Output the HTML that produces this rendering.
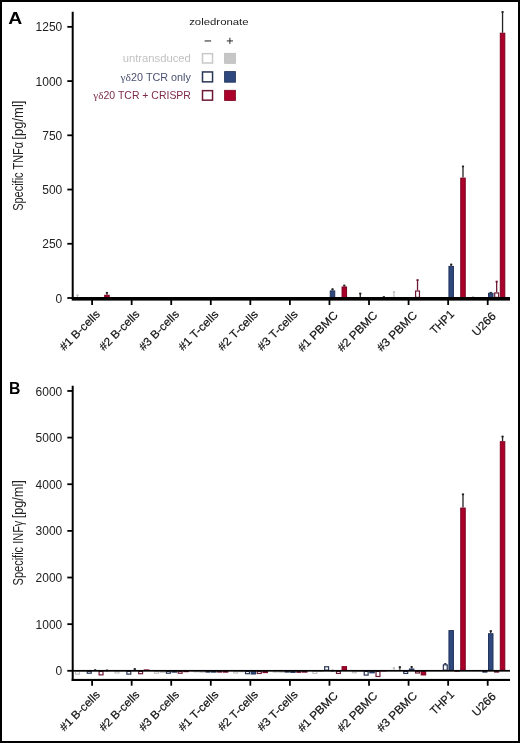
<!DOCTYPE html>
<html><head><meta charset="utf-8"><style>
html,body{margin:0;padding:0;background:#fff;}
svg{display:block;will-change:transform;}
text{font-family:"Liberation Sans", sans-serif;}
</style></head><body>
<svg width="520" height="743" viewBox="0 0 520 743" font-family='"Liberation Sans", sans-serif'>
<rect x="1" y="1" width="518" height="741" fill="#fff" stroke="#000" stroke-width="2"/>
<text x="8.3" y="23.8" font-size="17.3" text-anchor="start" fill="#000" font-weight="bold" textLength="14" lengthAdjust="spacingAndGlyphs" >A</text>
<text x="9.0" y="393.8" font-size="17" text-anchor="start" fill="#000" font-weight="bold" textLength="11.4" lengthAdjust="spacingAndGlyphs" >B</text>
<line x1="72.7" y1="11.7" x2="72.7" y2="299" stroke="#000" stroke-width="2"/>
<line x1="67.3" y1="298.00" x2="72.7" y2="298.00" stroke="#000" stroke-width="1.8"/>
<text x="62.3" y="302.60" font-size="12" text-anchor="end" fill="#222" font-weight="normal" >0</text>
<line x1="67.3" y1="243.77" x2="72.7" y2="243.77" stroke="#000" stroke-width="1.8"/>
<text x="62.3" y="248.37" font-size="12" text-anchor="end" fill="#222" font-weight="normal" >250</text>
<line x1="67.3" y1="189.54" x2="72.7" y2="189.54" stroke="#000" stroke-width="1.8"/>
<text x="62.3" y="194.14" font-size="12" text-anchor="end" fill="#222" font-weight="normal" >500</text>
<line x1="67.3" y1="135.31" x2="72.7" y2="135.31" stroke="#000" stroke-width="1.8"/>
<text x="62.3" y="139.91" font-size="12" text-anchor="end" fill="#222" font-weight="normal" >750</text>
<line x1="67.3" y1="81.08" x2="72.7" y2="81.08" stroke="#000" stroke-width="1.8"/>
<text x="62.3" y="85.68" font-size="12" text-anchor="end" fill="#222" font-weight="normal" >1000</text>
<line x1="67.3" y1="26.85" x2="72.7" y2="26.85" stroke="#000" stroke-width="1.8"/>
<text x="62.3" y="31.45" font-size="12" text-anchor="end" fill="#222" font-weight="normal" >1250</text>
<line x1="77.45" y1="297.57" x2="77.45" y2="294.53" stroke="#c0c0c0" stroke-width="1.3"/>
<line x1="76.35" y1="295.33" x2="78.55" y2="295.33" stroke="#c0c0c0" stroke-width="1.6"/>
<rect x="74.90" y="297.57" width="5.10" height="0.60" fill="#c4c4c4"/>
<line x1="106.95" y1="294.75" x2="106.95" y2="291.93" stroke="#222" stroke-width="1.3"/>
<line x1="105.85" y1="292.73" x2="108.05" y2="292.73" stroke="#222" stroke-width="1.6"/>
<rect x="104.70" y="295.25" width="4.50" height="2.25" fill="#aa0029" stroke="#7a0020" stroke-width="1.0"/>
<line x1="332.51" y1="290.41" x2="332.51" y2="288.46" stroke="#222" stroke-width="1.3"/>
<line x1="331.41" y1="289.26" x2="333.61" y2="289.26" stroke="#222" stroke-width="1.6"/>
<rect x="330.26" y="290.91" width="4.50" height="6.59" fill="#2f497e" stroke="#22345c" stroke-width="1.0"/>
<line x1="344.31" y1="286.50" x2="344.31" y2="284.77" stroke="#222" stroke-width="1.3"/>
<line x1="343.21" y1="285.57" x2="345.41" y2="285.57" stroke="#222" stroke-width="1.6"/>
<rect x="342.06" y="287.00" width="4.50" height="10.50" fill="#aa0029" stroke="#7a0020" stroke-width="1.0"/>
<line x1="360.27" y1="297.35" x2="360.27" y2="292.79" stroke="#222" stroke-width="1.3"/>
<line x1="359.17" y1="293.59" x2="361.37" y2="293.59" stroke="#222" stroke-width="1.6"/>
<rect x="357.52" y="297.35" width="5.50" height="0.65" fill="#b8b8b8"/>
<line x1="383.87" y1="297.35" x2="383.87" y2="296.26" stroke="#222" stroke-width="1.3"/>
<line x1="382.77" y1="297.06" x2="384.97" y2="297.06" stroke="#222" stroke-width="1.6"/>
<rect x="381.12" y="297.35" width="5.50" height="0.65" fill="#7a0020"/>
<line x1="393.93" y1="297.13" x2="393.93" y2="291.28" stroke="#c0c0c0" stroke-width="1.3"/>
<line x1="392.83" y1="292.08" x2="395.03" y2="292.08" stroke="#c0c0c0" stroke-width="1.6"/>
<rect x="391.38" y="297.13" width="5.10" height="0.87" fill="#c4c4c4"/>
<line x1="417.53" y1="290.41" x2="417.53" y2="279.34" stroke="#6e1a34" stroke-width="1.3"/>
<line x1="416.43" y1="280.14" x2="418.63" y2="280.14" stroke="#6e1a34" stroke-width="1.6"/>
<rect x="415.58" y="291.01" width="3.90" height="6.39" fill="#fff" stroke="#6e1a34" stroke-width="1.2"/>
<line x1="451.19" y1="265.90" x2="451.19" y2="263.73" stroke="#222" stroke-width="1.3"/>
<line x1="450.09" y1="264.53" x2="452.29" y2="264.53" stroke="#222" stroke-width="1.6"/>
<rect x="448.94" y="266.40" width="4.50" height="31.10" fill="#2f497e" stroke="#22345c" stroke-width="1.0"/>
<line x1="462.99" y1="177.61" x2="462.99" y2="165.68" stroke="#222" stroke-width="1.3"/>
<line x1="461.89" y1="166.48" x2="464.09" y2="166.48" stroke="#222" stroke-width="1.6"/>
<rect x="460.74" y="178.11" width="4.50" height="119.39" fill="#aa0029" stroke="#7a0020" stroke-width="1.0"/>
<line x1="473.05" y1="297.57" x2="473.05" y2="296.26" stroke="#c0c0c0" stroke-width="1.3"/>
<line x1="471.95" y1="297.06" x2="474.15" y2="297.06" stroke="#c0c0c0" stroke-width="1.6"/>
<rect x="470.50" y="297.57" width="5.10" height="0.60" fill="#c4c4c4"/>
<line x1="490.75" y1="292.79" x2="490.75" y2="291.93" stroke="#222" stroke-width="1.3"/>
<line x1="489.65" y1="292.73" x2="491.85" y2="292.73" stroke="#222" stroke-width="1.6"/>
<rect x="488.50" y="293.29" width="4.50" height="4.21" fill="#2f497e" stroke="#22345c" stroke-width="1.0"/>
<line x1="496.65" y1="292.36" x2="496.65" y2="280.86" stroke="#6e1a34" stroke-width="1.3"/>
<line x1="495.55" y1="281.66" x2="497.75" y2="281.66" stroke="#6e1a34" stroke-width="1.6"/>
<rect x="494.70" y="292.96" width="3.90" height="4.44" fill="#fff" stroke="#6e1a34" stroke-width="1.2"/>
<line x1="502.55" y1="32.71" x2="502.55" y2="11.23" stroke="#222" stroke-width="1.3"/>
<line x1="501.45" y1="12.03" x2="503.65" y2="12.03" stroke="#222" stroke-width="1.6"/>
<rect x="500.30" y="33.21" width="4.50" height="264.29" fill="#aa0029" stroke="#7a0020" stroke-width="1.0"/>
<rect x="71.7" y="297.0" width="438.3" height="3.6" fill="#000"/>
<line x1="92.10" y1="300" x2="92.10" y2="305" stroke="#000" stroke-width="1.8"/>
<line x1="131.66" y1="300" x2="131.66" y2="305" stroke="#000" stroke-width="1.8"/>
<line x1="171.22" y1="300" x2="171.22" y2="305" stroke="#000" stroke-width="1.8"/>
<line x1="210.78" y1="300" x2="210.78" y2="305" stroke="#000" stroke-width="1.8"/>
<line x1="250.34" y1="300" x2="250.34" y2="305" stroke="#000" stroke-width="1.8"/>
<line x1="289.90" y1="300" x2="289.90" y2="305" stroke="#000" stroke-width="1.8"/>
<line x1="329.46" y1="300" x2="329.46" y2="305" stroke="#000" stroke-width="1.8"/>
<line x1="369.02" y1="300" x2="369.02" y2="305" stroke="#000" stroke-width="1.8"/>
<line x1="408.58" y1="300" x2="408.58" y2="305" stroke="#000" stroke-width="1.8"/>
<line x1="448.14" y1="300" x2="448.14" y2="305" stroke="#000" stroke-width="1.8"/>
<line x1="487.70" y1="300" x2="487.70" y2="305" stroke="#000" stroke-width="1.8"/>
<text transform="translate(22.9,210.80) rotate(-90)" font-size="14" fill="#222" textLength="68.88" lengthAdjust="spacingAndGlyphs">Specific TNFα</text>
<text transform="translate(22.9,139.65) rotate(-90)" font-size="14" fill="#222" textLength="39.04" lengthAdjust="spacingAndGlyphs">[pg/ml]</text>
<text transform="translate(100.70,314.90) rotate(-45)" font-size="11.5" text-anchor="end" fill="#111" stroke="#111" stroke-width="0.2" textLength="51.54" lengthAdjust="spacingAndGlyphs">#1 B-cells</text>
<text transform="translate(140.24,314.90) rotate(-45)" font-size="11.5" text-anchor="end" fill="#111" stroke="#111" stroke-width="0.2" textLength="51.55" lengthAdjust="spacingAndGlyphs">#2 B-cells</text>
<text transform="translate(179.78,314.90) rotate(-45)" font-size="11.5" text-anchor="end" fill="#111" stroke="#111" stroke-width="0.2" textLength="51.42" lengthAdjust="spacingAndGlyphs">#3 B-cells</text>
<text transform="translate(219.32,314.90) rotate(-45)" font-size="11.5" text-anchor="end" fill="#111" stroke="#111" stroke-width="0.2" textLength="51.50" lengthAdjust="spacingAndGlyphs">#1 T-cells</text>
<text transform="translate(258.86,314.90) rotate(-45)" font-size="11.5" text-anchor="end" fill="#111" stroke="#111" stroke-width="0.2" textLength="51.37" lengthAdjust="spacingAndGlyphs">#2 T-cells</text>
<text transform="translate(298.40,314.90) rotate(-45)" font-size="11.5" text-anchor="end" fill="#111" stroke="#111" stroke-width="0.2" textLength="51.38" lengthAdjust="spacingAndGlyphs">#3 T-cells</text>
<text transform="translate(338.69,315.90) rotate(-45)" font-size="11.5" text-anchor="end" fill="#111" stroke="#111" stroke-width="0.2" textLength="51.32" lengthAdjust="spacingAndGlyphs">#1 PBMC</text>
<text transform="translate(378.23,315.90) rotate(-45)" font-size="11.5" text-anchor="end" fill="#111" stroke="#111" stroke-width="0.2" textLength="51.33" lengthAdjust="spacingAndGlyphs">#2 PBMC</text>
<text transform="translate(417.77,315.90) rotate(-45)" font-size="11.5" text-anchor="end" fill="#111" stroke="#111" stroke-width="0.2" textLength="51.20" lengthAdjust="spacingAndGlyphs">#3 PBMC</text>
<text transform="translate(455.01,314.80) rotate(-45)" font-size="11.5" text-anchor="end" fill="#111" stroke="#111" stroke-width="0.2" textLength="28.65" lengthAdjust="spacingAndGlyphs">THP1</text>
<text transform="translate(496.60,316.75) rotate(-45)" font-size="11.5" text-anchor="end" fill="#111" stroke="#111" stroke-width="0.2" textLength="28.20" lengthAdjust="spacingAndGlyphs">U266</text>
<line x1="72.7" y1="385.8" x2="72.7" y2="680.9" stroke="#000" stroke-width="2"/>
<line x1="67.3" y1="670.80" x2="72.7" y2="670.80" stroke="#000" stroke-width="1.8"/>
<text x="62.3" y="675.40" font-size="12" text-anchor="end" fill="#222" font-weight="normal" >0</text>
<line x1="67.3" y1="624.16" x2="72.7" y2="624.16" stroke="#000" stroke-width="1.8"/>
<text x="62.3" y="628.76" font-size="12" text-anchor="end" fill="#222" font-weight="normal" >1000</text>
<line x1="67.3" y1="577.52" x2="72.7" y2="577.52" stroke="#000" stroke-width="1.8"/>
<text x="62.3" y="582.12" font-size="12" text-anchor="end" fill="#222" font-weight="normal" >2000</text>
<line x1="67.3" y1="530.88" x2="72.7" y2="530.88" stroke="#000" stroke-width="1.8"/>
<text x="62.3" y="535.48" font-size="12" text-anchor="end" fill="#222" font-weight="normal" >3000</text>
<line x1="67.3" y1="484.24" x2="72.7" y2="484.24" stroke="#000" stroke-width="1.8"/>
<text x="62.3" y="488.84" font-size="12" text-anchor="end" fill="#222" font-weight="normal" >4000</text>
<line x1="67.3" y1="437.60" x2="72.7" y2="437.60" stroke="#000" stroke-width="1.8"/>
<text x="62.3" y="442.20" font-size="12" text-anchor="end" fill="#222" font-weight="normal" >5000</text>
<line x1="67.3" y1="390.96" x2="72.7" y2="390.96" stroke="#000" stroke-width="1.8"/>
<text x="62.3" y="395.56" font-size="12" text-anchor="end" fill="#222" font-weight="normal" >6000</text>
<rect x="75.50" y="671.40" width="3.90" height="2.76" fill="#fff" stroke="#c4c4c4" stroke-width="1.2"/>
<rect x="80.60" y="670.80" width="5.50" height="0.93" fill="#b8b8b8"/>
<rect x="87.30" y="671.40" width="3.90" height="1.83" fill="#fff" stroke="#2a3656" stroke-width="1.2"/>
<line x1="95.15" y1="670.57" x2="95.15" y2="669.40" stroke="#222" stroke-width="1.3"/>
<line x1="94.05" y1="670.20" x2="96.25" y2="670.20" stroke="#222" stroke-width="1.6"/>
<rect x="92.40" y="670.57" width="5.50" height="0.60" fill="#22345c"/>
<rect x="99.10" y="671.40" width="3.90" height="3.46" fill="#fff" stroke="#6e1a34" stroke-width="1.2"/>
<line x1="106.95" y1="670.57" x2="106.95" y2="669.63" stroke="#222" stroke-width="1.3"/>
<line x1="105.85" y1="670.43" x2="108.05" y2="670.43" stroke="#222" stroke-width="1.6"/>
<rect x="104.20" y="670.57" width="5.50" height="0.60" fill="#7a0020"/>
<rect x="115.06" y="671.40" width="3.90" height="1.60" fill="#fff" stroke="#c4c4c4" stroke-width="1.2"/>
<rect x="120.16" y="670.80" width="5.50" height="0.60" fill="#b8b8b8"/>
<rect x="126.86" y="671.40" width="3.90" height="2.76" fill="#fff" stroke="#2a3656" stroke-width="1.2"/>
<line x1="134.71" y1="670.57" x2="134.71" y2="668.23" stroke="#222" stroke-width="1.3"/>
<line x1="133.61" y1="669.03" x2="135.81" y2="669.03" stroke="#222" stroke-width="1.6"/>
<rect x="131.96" y="670.57" width="5.50" height="0.60" fill="#22345c"/>
<rect x="138.66" y="671.40" width="3.90" height="2.30" fill="#fff" stroke="#6e1a34" stroke-width="1.2"/>
<rect x="143.76" y="669.40" width="5.50" height="1.40" fill="#7a0020"/>
<rect x="154.62" y="671.40" width="3.90" height="1.83" fill="#fff" stroke="#c4c4c4" stroke-width="1.2"/>
<rect x="159.72" y="670.80" width="5.50" height="1.87" fill="#b8b8b8"/>
<rect x="166.42" y="671.40" width="3.90" height="1.83" fill="#fff" stroke="#2a3656" stroke-width="1.2"/>
<rect x="171.52" y="670.80" width="5.50" height="1.87" fill="#22345c"/>
<rect x="178.22" y="671.40" width="3.90" height="1.83" fill="#fff" stroke="#6e1a34" stroke-width="1.2"/>
<rect x="183.32" y="670.80" width="5.50" height="1.40" fill="#7a0020"/>
<rect x="193.58" y="670.80" width="5.10" height="1.63" fill="#c4c4c4"/>
<rect x="199.28" y="670.80" width="5.50" height="1.87" fill="#b8b8b8"/>
<rect x="205.38" y="670.80" width="5.10" height="1.87" fill="#2a3656"/>
<rect x="211.08" y="670.80" width="5.50" height="1.87" fill="#22345c"/>
<rect x="217.18" y="670.80" width="5.10" height="1.87" fill="#6e1a34"/>
<rect x="222.88" y="670.80" width="5.50" height="1.87" fill="#7a0020"/>
<rect x="233.74" y="671.40" width="3.90" height="1.60" fill="#fff" stroke="#c4c4c4" stroke-width="1.2"/>
<rect x="238.84" y="670.80" width="5.50" height="1.40" fill="#b8b8b8"/>
<rect x="245.54" y="671.40" width="3.90" height="2.30" fill="#fff" stroke="#2a3656" stroke-width="1.2"/>
<rect x="251.14" y="671.30" width="4.50" height="2.73" fill="#2f497e" stroke="#22345c" stroke-width="1.0"/>
<rect x="257.34" y="671.40" width="3.90" height="2.06" fill="#fff" stroke="#6e1a34" stroke-width="1.2"/>
<rect x="262.94" y="671.30" width="4.50" height="1.33" fill="#aa0029" stroke="#7a0020" stroke-width="1.0"/>
<rect x="272.70" y="670.80" width="5.10" height="1.87" fill="#c4c4c4"/>
<rect x="278.40" y="670.80" width="5.50" height="1.87" fill="#b8b8b8"/>
<rect x="284.50" y="670.80" width="5.10" height="1.87" fill="#2a3656"/>
<rect x="290.70" y="671.30" width="4.50" height="1.10" fill="#2f497e" stroke="#22345c" stroke-width="1.0"/>
<rect x="296.30" y="670.80" width="5.10" height="2.10" fill="#6e1a34"/>
<rect x="302.00" y="670.80" width="5.50" height="1.87" fill="#7a0020"/>
<rect x="312.86" y="671.40" width="3.90" height="2.06" fill="#fff" stroke="#c4c4c4" stroke-width="1.2"/>
<rect x="317.96" y="670.80" width="5.50" height="0.93" fill="#b8b8b8"/>
<rect x="324.66" y="666.74" width="3.90" height="3.46" fill="#fff" stroke="#2a3656" stroke-width="1.2"/>
<line x1="332.51" y1="670.57" x2="332.51" y2="669.87" stroke="#222" stroke-width="1.3"/>
<line x1="331.41" y1="670.67" x2="333.61" y2="670.67" stroke="#222" stroke-width="1.6"/>
<rect x="329.76" y="670.57" width="5.50" height="0.60" fill="#22345c"/>
<rect x="336.46" y="671.40" width="3.90" height="2.06" fill="#fff" stroke="#6e1a34" stroke-width="1.2"/>
<rect x="342.06" y="666.64" width="4.50" height="3.66" fill="#aa0029" stroke="#7a0020" stroke-width="1.0"/>
<rect x="352.42" y="671.40" width="3.90" height="1.37" fill="#fff" stroke="#c4c4c4" stroke-width="1.2"/>
<rect x="357.52" y="670.80" width="5.50" height="0.93" fill="#b8b8b8"/>
<rect x="364.22" y="671.40" width="3.90" height="3.70" fill="#fff" stroke="#2a3656" stroke-width="1.2"/>
<rect x="369.82" y="671.30" width="4.50" height="1.57" fill="#2f497e" stroke="#22345c" stroke-width="1.0"/>
<rect x="376.02" y="671.40" width="3.90" height="5.10" fill="#fff" stroke="#6e1a34" stroke-width="1.2"/>
<rect x="381.12" y="670.80" width="5.50" height="0.60" fill="#7a0020"/>
<line x1="393.93" y1="670.57" x2="393.93" y2="667.30" stroke="#c0c0c0" stroke-width="1.3"/>
<line x1="392.83" y1="668.10" x2="395.03" y2="668.10" stroke="#c0c0c0" stroke-width="1.6"/>
<rect x="391.38" y="670.57" width="5.10" height="0.60" fill="#c4c4c4"/>
<line x1="399.83" y1="669.87" x2="399.83" y2="666.37" stroke="#222" stroke-width="1.3"/>
<line x1="398.73" y1="667.17" x2="400.93" y2="667.17" stroke="#222" stroke-width="1.6"/>
<rect x="397.08" y="669.87" width="5.50" height="0.93" fill="#b8b8b8"/>
<rect x="403.78" y="671.40" width="3.90" height="2.06" fill="#fff" stroke="#2a3656" stroke-width="1.2"/>
<line x1="411.63" y1="668.47" x2="411.63" y2="666.14" stroke="#222" stroke-width="1.3"/>
<line x1="410.53" y1="666.94" x2="412.73" y2="666.94" stroke="#222" stroke-width="1.6"/>
<rect x="409.38" y="668.97" width="4.50" height="1.33" fill="#2f497e" stroke="#22345c" stroke-width="1.0"/>
<rect x="415.58" y="671.40" width="3.90" height="1.60" fill="#fff" stroke="#6e1a34" stroke-width="1.2"/>
<rect x="421.18" y="671.30" width="4.50" height="3.66" fill="#aa0029" stroke="#7a0020" stroke-width="1.0"/>
<line x1="445.29" y1="664.27" x2="445.29" y2="663.10" stroke="#2a3656" stroke-width="1.3"/>
<line x1="444.19" y1="663.90" x2="446.39" y2="663.90" stroke="#2a3656" stroke-width="1.6"/>
<rect x="443.34" y="664.87" width="3.90" height="5.33" fill="#fff" stroke="#2a3656" stroke-width="1.2"/>
<rect x="448.94" y="630.58" width="4.50" height="39.72" fill="#2f497e" stroke="#22345c" stroke-width="1.0"/>
<rect x="454.54" y="670.80" width="5.10" height="0.93" fill="#6e1a34"/>
<line x1="462.99" y1="507.56" x2="462.99" y2="493.61" stroke="#222" stroke-width="1.3"/>
<line x1="461.89" y1="494.41" x2="464.09" y2="494.41" stroke="#222" stroke-width="1.6"/>
<rect x="460.74" y="508.06" width="4.50" height="162.24" fill="#aa0029" stroke="#7a0020" stroke-width="1.0"/>
<rect x="482.30" y="670.80" width="5.10" height="1.87" fill="#2a3656"/>
<line x1="490.75" y1="633.21" x2="490.75" y2="630.32" stroke="#222" stroke-width="1.3"/>
<line x1="489.65" y1="631.12" x2="491.85" y2="631.12" stroke="#222" stroke-width="1.6"/>
<rect x="488.50" y="633.71" width="4.50" height="36.59" fill="#2f497e" stroke="#22345c" stroke-width="1.0"/>
<rect x="494.10" y="670.80" width="5.10" height="1.87" fill="#6e1a34"/>
<line x1="502.55" y1="441.19" x2="502.55" y2="435.78" stroke="#222" stroke-width="1.3"/>
<line x1="501.45" y1="436.58" x2="503.65" y2="436.58" stroke="#222" stroke-width="1.6"/>
<rect x="500.30" y="441.69" width="4.50" height="228.61" fill="#aa0029" stroke="#7a0020" stroke-width="1.0"/>
<rect x="72" y="669.95" width="438" height="1.7" fill="#000"/>
<rect x="71.7" y="678.9" width="438.3" height="2.1" fill="#000"/>
<line x1="92.10" y1="680" x2="92.10" y2="685.7" stroke="#000" stroke-width="1.8"/>
<line x1="131.66" y1="680" x2="131.66" y2="685.7" stroke="#000" stroke-width="1.8"/>
<line x1="171.22" y1="680" x2="171.22" y2="685.7" stroke="#000" stroke-width="1.8"/>
<line x1="210.78" y1="680" x2="210.78" y2="685.7" stroke="#000" stroke-width="1.8"/>
<line x1="250.34" y1="680" x2="250.34" y2="685.7" stroke="#000" stroke-width="1.8"/>
<line x1="289.90" y1="680" x2="289.90" y2="685.7" stroke="#000" stroke-width="1.8"/>
<line x1="329.46" y1="680" x2="329.46" y2="685.7" stroke="#000" stroke-width="1.8"/>
<line x1="369.02" y1="680" x2="369.02" y2="685.7" stroke="#000" stroke-width="1.8"/>
<line x1="408.58" y1="680" x2="408.58" y2="685.7" stroke="#000" stroke-width="1.8"/>
<line x1="448.14" y1="680" x2="448.14" y2="685.7" stroke="#000" stroke-width="1.8"/>
<line x1="487.70" y1="680" x2="487.70" y2="685.7" stroke="#000" stroke-width="1.8"/>
<text transform="translate(22.7,585.45) rotate(-90)" font-size="14" fill="#222" textLength="64.82" lengthAdjust="spacingAndGlyphs">Specific INFγ</text>
<text transform="translate(22.7,518.35) rotate(-90)" font-size="14" fill="#222" textLength="38.14" lengthAdjust="spacingAndGlyphs">[pg/ml]</text>
<text transform="translate(100.70,695.30) rotate(-45)" font-size="11.5" text-anchor="end" fill="#111" stroke="#111" stroke-width="0.2" textLength="51.54" lengthAdjust="spacingAndGlyphs">#1 B-cells</text>
<text transform="translate(140.24,695.30) rotate(-45)" font-size="11.5" text-anchor="end" fill="#111" stroke="#111" stroke-width="0.2" textLength="51.55" lengthAdjust="spacingAndGlyphs">#2 B-cells</text>
<text transform="translate(179.78,695.30) rotate(-45)" font-size="11.5" text-anchor="end" fill="#111" stroke="#111" stroke-width="0.2" textLength="51.42" lengthAdjust="spacingAndGlyphs">#3 B-cells</text>
<text transform="translate(219.32,695.30) rotate(-45)" font-size="11.5" text-anchor="end" fill="#111" stroke="#111" stroke-width="0.2" textLength="51.50" lengthAdjust="spacingAndGlyphs">#1 T-cells</text>
<text transform="translate(258.86,695.30) rotate(-45)" font-size="11.5" text-anchor="end" fill="#111" stroke="#111" stroke-width="0.2" textLength="51.37" lengthAdjust="spacingAndGlyphs">#2 T-cells</text>
<text transform="translate(298.40,695.30) rotate(-45)" font-size="11.5" text-anchor="end" fill="#111" stroke="#111" stroke-width="0.2" textLength="51.38" lengthAdjust="spacingAndGlyphs">#3 T-cells</text>
<text transform="translate(338.69,696.30) rotate(-45)" font-size="11.5" text-anchor="end" fill="#111" stroke="#111" stroke-width="0.2" textLength="51.32" lengthAdjust="spacingAndGlyphs">#1 PBMC</text>
<text transform="translate(378.23,696.30) rotate(-45)" font-size="11.5" text-anchor="end" fill="#111" stroke="#111" stroke-width="0.2" textLength="51.33" lengthAdjust="spacingAndGlyphs">#2 PBMC</text>
<text transform="translate(417.77,696.30) rotate(-45)" font-size="11.5" text-anchor="end" fill="#111" stroke="#111" stroke-width="0.2" textLength="51.20" lengthAdjust="spacingAndGlyphs">#3 PBMC</text>
<text transform="translate(455.01,695.20) rotate(-45)" font-size="11.5" text-anchor="end" fill="#111" stroke="#111" stroke-width="0.2" textLength="28.65" lengthAdjust="spacingAndGlyphs">THP1</text>
<text transform="translate(496.60,697.15) rotate(-45)" font-size="11.5" text-anchor="end" fill="#111" stroke="#111" stroke-width="0.2" textLength="28.20" lengthAdjust="spacingAndGlyphs">U266</text>
<text x="189.2" y="25.3" font-size="9.6" text-anchor="start" fill="#222" font-weight="normal" textLength="59.4" lengthAdjust="spacingAndGlyphs" >zoledronate</text>
<rect x="204.6" y="40.4" width="6.5" height="1.1" fill="#333"/>
<rect x="226.8" y="40.4" width="6.2" height="1.05" fill="#333"/><rect x="229.35" y="37.7" width="1.05" height="6.2" fill="#333"/>
<text x="190.9" y="62.3" font-size="10.3" text-anchor="end" fill="#c2c2c2" font-weight="normal" textLength="68.2" lengthAdjust="spacingAndGlyphs" >untransduced</text>
<rect x="202.5" y="53.65" width="10.05" height="9.35" fill="#fff" stroke="#c8c8c8" stroke-width="1.5"/>
<rect x="224.6" y="53.3" width="10.80" height="10.05" fill="#c6c6c6" stroke="#bcbcbc" stroke-width="0.8"/>
<text x="190.9" y="80.7" font-size="10.3" text-anchor="end" fill="#485270" font-weight="normal" textLength="70.5" lengthAdjust="spacingAndGlyphs" ><tspan font-family="Liberation Serif" font-size="11">γδ</tspan>20 TCR only</text>
<rect x="202.5" y="71.95" width="10.05" height="9.90" fill="#fff" stroke="#2a3656" stroke-width="1.5"/>
<rect x="224.6" y="71.60000000000001" width="10.80" height="10.60" fill="#2f497e" stroke="#1c2c52" stroke-width="0.8"/>
<text x="190.9" y="98.9" font-size="10.3" text-anchor="end" fill="#7d2b4b" font-weight="normal" textLength="97.7" lengthAdjust="spacingAndGlyphs" ><tspan font-family="Liberation Serif" font-size="11">γδ</tspan>20 TCR + CRISPR</text>
<rect x="202.5" y="90.65" width="10.05" height="9.50" fill="#fff" stroke="#6e1a34" stroke-width="1.5"/>
<rect x="224.6" y="90.30000000000001" width="10.80" height="10.20" fill="#aa0029" stroke="#7a0020" stroke-width="0.8"/>
</svg>
</body></html>
